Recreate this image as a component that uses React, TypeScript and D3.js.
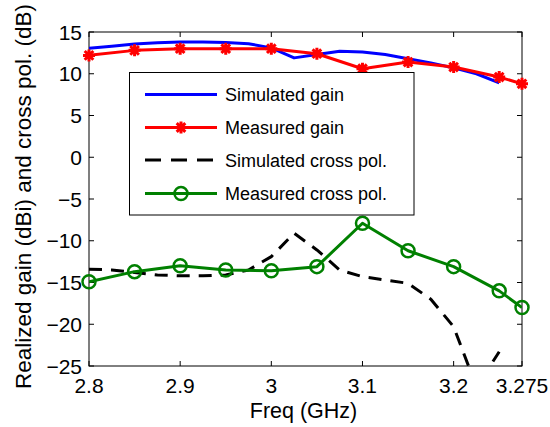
import { scaleLinear, line } from "d3";

const width = 550;
const height = 427;
const left = 89;
const right = 522;
const top = 32;
const bottom = 366;

// simulated data (fine steps)
const simFreq = [2.8, 2.825, 2.85, 2.875, 2.9, 2.925, 2.95, 2.975, 3.0, 3.025, 3.05, 3.075, 3.1, 3.125, 3.15, 3.175, 3.2, 3.225, 3.25];
const simGain = [13.05, 13.3, 13.55, 13.7, 13.8, 13.8, 13.75, 13.6, 13.1, 11.9, 12.3, 12.7, 12.6, 12.3, 11.8, 11.3, 10.7, 10.0, 8.9];
const simCross = [-13.4, -13.5, -13.8, -14.1, -14.2, -14.2, -14.1, -13.5, -11.9, -9.1, -11.1, -13.5, -14.3, -14.7, -15.1, -17.0, -20.3, -27.5, -23.3];

// measured data
const measFreq = [2.8, 2.85, 2.9, 2.95, 3.0, 3.05, 3.1, 3.15, 3.2, 3.25, 3.275];
const measGain = [12.2, 12.8, 13.0, 13.0, 13.0, 12.4, 10.6, 11.4, 10.8, 9.6, 8.8];
const measCross = [-14.9, -13.7, -13.0, -13.5, -13.6, -13.1, -7.9, -11.2, -13.1, -16.0, -18.0];

const xTicks = [2.8, 2.9, 3, 3.1, 3.2, 3.275];
const xTickLabels = ["2.8", "2.9", "3", "3.1", "3.2", "3.275"];
const yTicks = [-25, -20, -15, -10, -5, 0, 5, 10, 15];

const legendLabels = ["Simulated gain", "Measured gain", "Simulated cross pol.", "Measured cross pol."];

const font = "Arial, 'Liberation Sans', Helvetica, sans-serif";

const x = scaleLinear().domain([2.8, 3.275]).range([left, right]);
const y = scaleLinear().domain([-25, 15]).range([bottom, top]);

const mkLine = line<[number, number]>()
  .x((d) => x(d[0]))
  .y((d) => y(d[1]));

const pairs = (xs: number[], ys: number[]) => xs.map((v, i) => [v, ys[i]] as [number, number]);

const star = (cx: number, cy: number, r: number) => {
  const d = r * 0.72;
  return `M${cx - r},${cy}L${cx + r},${cy}M${cx},${cy - r}L${cx},${cy + r}M${cx - d},${cy - d}L${cx + d},${cy + d}M${cx - d},${cy + d}L${cx + d},${cy - d}`;
};

function App() {
  const lgX0 = 145;
  const lgX1 = 217;
  const lgY = [94.5, 127.5, 160, 193.5];

  return (
    <svg width={width} height={height} style={{ position: "absolute", left: 0, top: 0, background: "#fff" }}>
      <defs>
        <clipPath id="plotclip">
          <rect x={left} y={top} width={right - left} height={bottom - top} />
        </clipPath>
      </defs>
      <rect x={0} y={0} width={width} height={height} fill="#fff" />

      {/* axes box and ticks */}
      <rect x={left} y={top} width={right - left} height={bottom - top} fill="none" stroke="#000" strokeWidth={1} />
      {xTicks.map((t, i) => (
        <g key={"xt" + i}>
          <line x1={x(t)} x2={x(t)} y1={bottom} y2={bottom - 5} stroke="#000" />
          <line x1={x(t)} x2={x(t)} y1={top} y2={top + 5} stroke="#000" />
          <text x={x(t)} y={393} textAnchor="middle" fontFamily={font} fontSize={21} fill="#000">
            {xTickLabels[i]}
          </text>
        </g>
      ))}
      {yTicks.map((t) => (
        <g key={"yt" + t}>
          <line x1={left} x2={left + 5} y1={y(t)} y2={y(t)} stroke="#000" />
          <line x1={right} x2={right - 5} y1={y(t)} y2={y(t)} stroke="#000" />
          <text x={82} y={y(t) + 7.5} textAnchor="end" fontFamily={font} fontSize={21} fill="#000">
            {t < 0 ? "\u2212" + Math.abs(t) : String(t)}
          </text>
        </g>
      ))}

      <text x={(left + right) / 2 - 2} y={418} textAnchor="middle" fontFamily={font} fontSize={21.5} fill="#000">
        Freq (GHz)
      </text>
      <text
        transform={`translate(31,196.5) rotate(-90)`}
        textAnchor="middle"
        fontFamily={font}
        fontSize={22.5}
        fill="#000"
      >
        Realized gain (dBi) and cross pol. (dB)
      </text>

      {/* series */}
      <g clipPath="url(#plotclip)" fill="none" strokeLinejoin="round">
        <path d={mkLine(pairs(simFreq, simGain)) || ""} stroke="#0000ff" strokeWidth={3} />
        <path d={mkLine(pairs(measFreq, measGain)) || ""} stroke="#ff0000" strokeWidth={3} />
        <path d={mkLine(pairs(simFreq, simCross)) || ""} stroke="#000" strokeWidth={3} strokeDasharray="13,9" />
        <path d={mkLine(pairs(measFreq, measCross)) || ""} stroke="#008000" strokeWidth={3} />
      </g>
      <g fill="none">
        {measFreq.map((f, i) => (
          <path key={"mg" + i} d={star(x(f), y(measGain[i]), 6)} stroke="#ff0000" strokeWidth={3} />
        ))}
        {measFreq.map((f, i) => (
          <circle key={"mc" + i} cx={x(f)} cy={y(measCross[i])} r={6.5} stroke="#008000" strokeWidth={2.5} />
        ))}
      </g>

      {/* legend */}
      <rect x={129.5} y={72.5} width={284.5} height={142.5} fill="#fff" stroke="#000" strokeWidth={1} />
      <line x1={lgX0} x2={lgX1} y1={lgY[0]} y2={lgY[0]} stroke="#0000ff" strokeWidth={3} />
      <line x1={lgX0} x2={lgX1} y1={lgY[1]} y2={lgY[1]} stroke="#ff0000" strokeWidth={3} />
      <path d={star((lgX0 + lgX1) / 2, lgY[1], 6)} stroke="#ff0000" strokeWidth={3} fill="none" />
      <line x1={lgX0} x2={lgX1} y1={lgY[2]} y2={lgY[2]} stroke="#000" strokeWidth={3} strokeDasharray="16,10" />
      <line x1={lgX0} x2={lgX1} y1={lgY[3]} y2={lgY[3]} stroke="#008000" strokeWidth={3} />
      <circle cx={(lgX0 + lgX1) / 2} cy={lgY[3]} r={6.5} stroke="#008000" strokeWidth={2.5} fill="none" />
      {legendLabels.map((l, i) => (
        <text key={l} x={225} y={lgY[i] + 6.5} fontFamily={font} fontSize={18} fill="#000">
          {l}
        </text>
      ))}
    </svg>
  );
}

export default App;
